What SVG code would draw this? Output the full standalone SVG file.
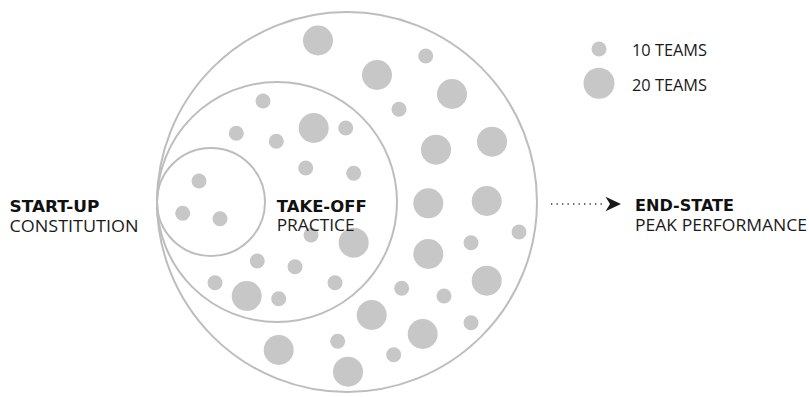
<svg xmlns="http://www.w3.org/2000/svg" width="809" height="397" viewBox="0 0 809 397">
<style>
.ring{fill:none;stroke:#bcbdbc;stroke-width:2}
.d{fill:#c6c7c6}
.b{font-family:"DejaVu Sans",sans-serif;font-weight:bold;font-size:16px;fill:#111}
.l{font-family:"Open Sans","DejaVu Sans",sans-serif;font-weight:400;font-size:16px;fill:#1a1a1a}
</style>
<defs>
<symbol id="s" overflow="visible"><circle r="7.5" class="d"/></symbol>
<symbol id="L" overflow="visible"><circle r="15" class="d"/></symbol>
</defs>
<g id="circles">
<circle id="end-state" class="ring" cx="347" cy="202" r="190"/>
<circle id="take-off" class="ring" cx="277" cy="202" r="120"/>
<circle id="start-up" class="ring" cx="211" cy="202" r="54"/>
</g>
<g id="dots">
<use href="#L" x="318" y="40.5"/>
<use href="#L" x="377" y="75"/>
<use href="#s" x="425.7" y="56"/>
<use href="#L" x="452" y="94"/>
<use href="#s" x="399" y="109.3"/>
<use href="#s" x="263" y="101"/>
<use href="#s" x="236.3" y="133.3"/>
<use href="#s" x="276.3" y="141.3"/>
<use href="#L" x="313.7" y="128"/>
<use href="#s" x="345.7" y="128"/>
<use href="#L" x="436" y="149.7"/>
<use href="#L" x="492" y="141.7"/>
<use href="#s" x="305.7" y="168"/>
<use href="#s" x="353.7" y="173.3"/>
<use href="#s" x="199" y="181"/>
<use href="#L" x="428.3" y="203.3"/>
<use href="#L" x="486.7" y="201"/>
<use href="#s" x="182.7" y="213.3"/>
<use href="#s" x="220" y="218.7"/>
<use href="#s" x="311" y="235"/>
<use href="#L" x="353.7" y="242.7"/>
<use href="#s" x="519" y="232"/>
<use href="#s" x="471" y="242.7"/>
<use href="#L" x="428.3" y="254"/>
<use href="#s" x="257.3" y="261"/>
<use href="#s" x="295" y="266.7"/>
<use href="#s" x="215" y="282.7"/>
<use href="#L" x="246.7" y="296"/>
<use href="#s" x="278.7" y="298.7"/>
<use href="#s" x="335" y="282.7"/>
<use href="#s" x="401.7" y="288.3"/>
<use href="#s" x="444" y="296"/>
<use href="#L" x="486.7" y="280.7"/>
<use href="#L" x="371.7" y="315"/>
<use href="#L" x="422.7" y="334"/>
<use href="#s" x="471" y="322.7"/>
<use href="#L" x="278.7" y="350"/>
<use href="#s" x="337.7" y="341.3"/>
<use href="#s" x="393.7" y="354.7"/>
<use href="#L" x="348" y="371.7"/>
</g>
<g id="legend">
<circle class="d" cx="599" cy="49" r="7.5"/>
<circle class="d" cx="599" cy="83.3" r="15.5"/>
<text class="l" x="632" y="56" textLength="75" lengthAdjust="spacingAndGlyphs">10 TEAMS</text>
<text class="l" x="632" y="90.5" textLength="75" lengthAdjust="spacingAndGlyphs">20 TEAMS</text>
</g>
<g id="connectors">
<line x1="551" y1="204" x2="604" y2="204" stroke="#333" stroke-width="1.3" stroke-dasharray="1.3 4.2"/>
<polygon points="605.5,196.8 621,204 605.5,211.2 610,204" fill="#1a1a1a"/>
</g>
<g id="label-start-up">
<text class="b" x="9.5" y="211.5" textLength="90" lengthAdjust="spacingAndGlyphs">START-UP</text>
<text class="l" x="9.5" y="231.5" textLength="129" lengthAdjust="spacingAndGlyphs">CONSTITUTION</text>
</g>
<g id="label-take-off">
<text class="b" x="276.7" y="211.5" textLength="90" lengthAdjust="spacingAndGlyphs">TAKE-OFF</text>
<text class="l" x="276.7" y="230.5" textLength="78" lengthAdjust="spacingAndGlyphs">PRACTICE</text>
</g>
<g id="label-end-state">
<text class="b" x="635" y="211" textLength="99" lengthAdjust="spacingAndGlyphs">END-STATE</text>
<text class="l" x="635" y="230.5" textLength="172" lengthAdjust="spacingAndGlyphs">PEAK PERFORMANCE</text>
</g>
</svg>
